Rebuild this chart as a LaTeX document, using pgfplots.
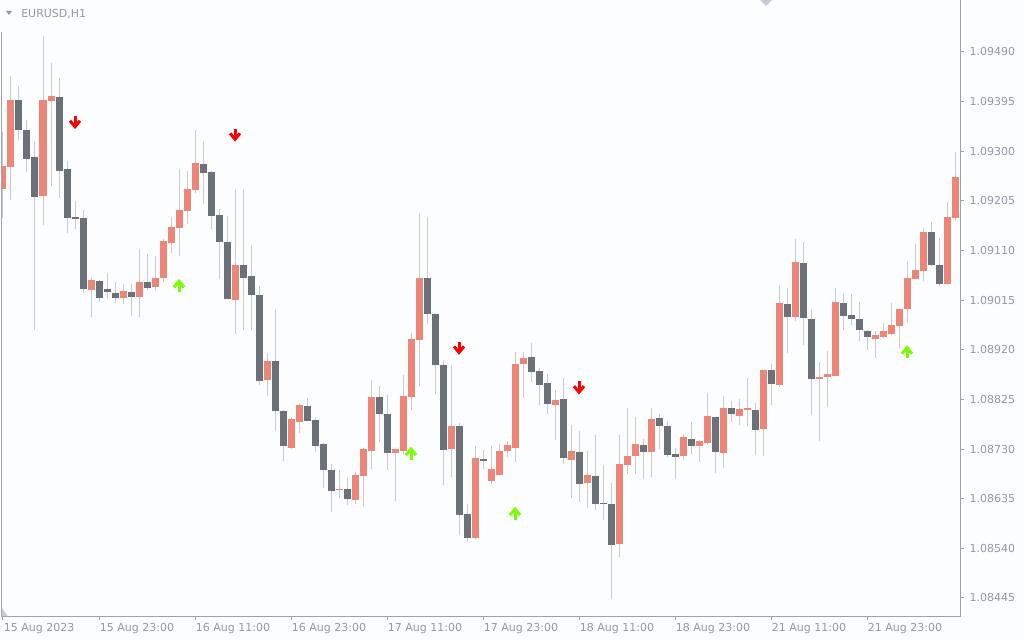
\documentclass[border=0pt]{standalone}
\usepackage{fontspec}
\setmainfont{DejaVu Sans}
\usepackage{pgfplots}
\pgfplotsset{compat=1.18}
\usepackage{pgfplotstable}

\definecolor{bullc}{RGB}{238,134,120}
\definecolor{bearc}{RGB}{107,112,121}
\definecolor{wickc}{RGB}{200,203,212}
\definecolor{bgc}{RGB}{252,253,254}
\definecolor{txtc}{RGB}{150,152,164}
\definecolor{axc}{RGB}{160,162,172}
\definecolor{upc}{RGB}{124,252,0}
\definecolor{dnc}{RGB}{255,0,0}

\pgfdeclareplotmark{dnarr}{%
  \pgfsetlinewidth{2.25pt}\pgfsetmiterjoin\pgfsetbuttcap
  \pgfpathmoveto{\pgfpoint{0pt}{4.9pt}}\pgfpathlineto{\pgfpoint{0pt}{-3.15pt}}\pgfusepathqstroke
  \pgfpathmoveto{\pgfpoint{-3.75pt}{1.35pt}}\pgfpathlineto{\pgfpoint{0pt}{-3.15pt}}\pgfpathlineto{\pgfpoint{3.75pt}{1.35pt}}\pgfusepathqstroke}
\pgfdeclareplotmark{uparr}{%
  \pgfsetlinewidth{2.25pt}\pgfsetmiterjoin\pgfsetbuttcap
  \pgfpathmoveto{\pgfpoint{0pt}{-4.9pt}}\pgfpathlineto{\pgfpoint{0pt}{3.15pt}}\pgfusepathqstroke
  \pgfpathmoveto{\pgfpoint{-3.75pt}{-1.35pt}}\pgfpathlineto{\pgfpoint{0pt}{3.15pt}}\pgfpathlineto{\pgfpoint{3.75pt}{-1.35pt}}\pgfusepathqstroke}
\pgfdeclareplotmark{nomark}{}

% bullish candles: k open high low close
\pgfplotstableread{
k o h l c
0 1.09228 1.09337 1.09173 1.09272
1 1.09270 1.09444 1.09207 1.09398
5 1.09215 1.09521 1.09159 1.09398
6 1.09397 1.09469 1.09234 1.09406
11 1.09035 1.09059 1.08983 1.09054
15 1.09020 1.09046 1.09008 1.09033
17 1.09022 1.09113 1.08982 1.09050
19 1.09041 1.09100 1.09033 1.09057
20 1.09058 1.09132 1.09050 1.09128
21 1.09124 1.09174 1.09106 1.09155
22 1.09154 1.09266 1.09100 1.09188
23 1.09186 1.09263 1.09161 1.09228
24 1.09226 1.09341 1.09220 1.09278
29 1.09016 1.09228 1.08951 1.09082
33 1.08863 1.08914 1.08832 1.08899
36 1.08732 1.08792 1.08730 1.08788
37 1.08782 1.08816 1.08760 1.08814
42 1.08652 1.08690 1.08636 1.08654
44 1.08633 1.08686 1.08624 1.08680
45 1.08679 1.08732 1.08620 1.08730
46 1.08727 1.08862 1.08691 1.08830
49 1.08723 1.08730 1.08631 1.08730
50 1.08727 1.08872 1.08721 1.08832
51 1.08830 1.08952 1.08805 1.08941
52 1.08939 1.09181 1.08851 1.09057
56 1.08731 1.08891 1.08677 1.08774
59 1.08560 1.08735 1.08558 1.08713
61 1.08668 1.08736 1.08664 1.08692
62 1.08681 1.08740 1.08680 1.08726
63 1.08727 1.08746 1.08715 1.08738
64 1.08733 1.08916 1.08706 1.08893
65 1.08892 1.08916 1.08828 1.08904
69 1.08815 1.08843 1.08748 1.08824
71 1.08710 1.08776 1.08637 1.08726
73 1.08666 1.08726 1.08618 1.08680
77 1.08549 1.08757 1.08524 1.08701
78 1.08700 1.08809 1.08683 1.08717
79 1.08717 1.08791 1.08683 1.08740
81 1.08725 1.08809 1.08677 1.08787
85 1.08717 1.08759 1.08710 1.08753
87 1.08736 1.08747 1.08706 1.08745
88 1.08742 1.08837 1.08738 1.08793
90 1.08723 1.08832 1.08694 1.08809
92 1.08794 1.08826 1.08777 1.08807
93 1.08805 1.08866 1.08775 1.08809
95 1.08768 1.08881 1.08717 1.08881
97 1.08853 1.09044 1.08849 1.09010
99 1.08983 1.09132 1.08976 1.09088
102 1.08865 1.08897 1.08746 1.08867
103 1.08867 1.08918 1.08811 1.08874
104 1.08870 1.09039 1.08869 1.09012
109 1.08941 1.08956 1.08905 1.08948
110 1.08945 1.08971 1.08943 1.08956
111 1.08951 1.09010 1.08949 1.08967
112 1.08966 1.08998 1.08924 1.08998
113 1.08999 1.09090 1.08972 1.09057
114 1.09056 1.09123 1.09055 1.09073
115 1.09070 1.09153 1.09052 1.09146
118 1.09045 1.09203 1.09044 1.09174
119 1.09173 1.09299 1.09167 1.09251
}\bull

% bearish candles: k open high low close
\pgfplotstableread{
k o h l c
2 1.09398 1.09425 1.09322 1.09341
3 1.09341 1.09359 1.09261 1.09285
4 1.09289 1.09320 1.08958 1.09213
7 1.09404 1.09440 1.09211 1.09263
8 1.09266 1.09281 1.09144 1.09173
9 1.09174 1.09205 1.09152 1.09171
10 1.09172 1.09188 1.09029 1.09037
12 1.09052 1.09053 1.09012 1.09020
13 1.09036 1.09067 1.09017 1.09031
14 1.09029 1.09050 1.09010 1.09020
16 1.09031 1.09046 1.08985 1.09022
18 1.09050 1.09103 1.09035 1.09039
25 1.09276 1.09320 1.09200 1.09259
26 1.09260 1.09263 1.09152 1.09177
27 1.09178 1.09190 1.09056 1.09127
28 1.09126 1.09176 1.09017 1.09018
30 1.09082 1.09228 1.08957 1.09058
31 1.09061 1.09121 1.08958 1.09024
32 1.09025 1.09042 1.08853 1.08861
34 1.08899 1.08998 1.08765 1.08802
35 1.08803 1.08805 1.08708 1.08735
38 1.08812 1.08828 1.08783 1.08784
39 1.08786 1.08792 1.08725 1.08736
40 1.08740 1.08742 1.08655 1.08689
41 1.08690 1.08701 1.08609 1.08650
43 1.08654 1.08677 1.08622 1.08635
47 1.08830 1.08851 1.08744 1.08798
48 1.08797 1.08834 1.08689 1.08723
53 1.09057 1.09174 1.08970 1.08989
54 1.08989 1.08991 1.08836 1.08890
55 1.08891 1.08900 1.08662 1.08729
57 1.08774 1.08780 1.08566 1.08603
58 1.08606 1.08625 1.08552 1.08560
60 1.08711 1.08728 1.08692 1.08708
66 1.08906 1.08933 1.08859 1.08878
67 1.08879 1.08885 1.08815 1.08853
68 1.08856 1.08874 1.08798 1.08817
70 1.08826 1.08866 1.08702 1.08712
72 1.08724 1.08765 1.08629 1.08664
74 1.08678 1.08757 1.08614 1.08624
75 1.08626 1.08700 1.08595 1.08624
76 1.08625 1.08665 1.08444 1.08547
80 1.08738 1.08749 1.08673 1.08725
82 1.08790 1.08797 1.08731 1.08775
83 1.08774 1.08784 1.08715 1.08719
84 1.08720 1.08732 1.08673 1.08715
86 1.08749 1.08782 1.08721 1.08736
89 1.08791 1.08792 1.08685 1.08725
91 1.08809 1.08822 1.08782 1.08798
94 1.08805 1.08818 1.08719 1.08767
96 1.08881 1.08893 1.08815 1.08855
98 1.09008 1.09038 1.08913 1.08983
100 1.09086 1.09126 1.08930 1.08980
101 1.08979 1.08998 1.08795 1.08865
105 1.09010 1.09029 1.08958 1.08985
106 1.08987 1.09026 1.08968 1.08978
107 1.08979 1.09012 1.08937 1.08957
108 1.08956 1.08958 1.08920 1.08945
116 1.09146 1.09165 1.09081 1.09083
117 1.09082 1.09134 1.09043 1.09045
}\bear

\begin{document}
\begin{tikzpicture}
\fill[bgc] (-1.5pt,-18pt) rectangle (766.5pt,462pt);
\begin{axis}[
  name=ax,
  at={(0pt,0pt)}, anchor=south west,
  scale only axis, width=718.5pt, height=462pt,
  xmin=-0.125, xmax=119.625, ymin=1.084105, ymax=1.095895,
  axis line style={draw=none},
  tick align=outside, major tick length=3pt,
  tick style={draw=axc, line width=0.75pt},
  xtick pos=bottom, ytick pos=right, yticklabel pos=right,
  xtick={0,12,24,36,48,60,72,84,96,108},
  xticklabels={15 Aug 2023,15 Aug 23:00,16 Aug 11:00,16 Aug 23:00,17 Aug 11:00,17 Aug 23:00,18 Aug 11:00,18 Aug 23:00,21 Aug 11:00,21 Aug 23:00},
  ytick={1.08445,1.08540,1.08635,1.08730,1.08825,1.08920,1.09015,1.09110,1.09205,1.09300,1.09395,1.09490},
  yticklabels={1.08445,1.08540,1.08635,1.08730,1.08825,1.08920,1.09015,1.09110,1.09205,1.09300,1.09395,1.09490},
  tick label style={font=\fontsize{8.25pt}{10pt}\selectfont, text=txtc},
  xticklabel style={anchor=north west, inner sep=0pt, xshift=0.5pt, yshift=-2pt},
  yticklabel style={anchor=west, inner sep=0pt, xshift=4pt},
  candle/.style={only marks, mark=nomark, forget plot,
    error bars/.cd, y dir=plus, y explicit, error mark=none},
]
% wicks
\addplot[wickc, candle, error bar style={line width=0.75pt, draw=wickc}]
  table[x=k, y=l, y error expr=\thisrow{h}-\thisrow{l}] {\bull};
\addplot[wickc, candle, error bar style={line width=0.75pt, draw=wickc}]
  table[x=k, y=l, y error expr=\thisrow{h}-\thisrow{l}] {\bear};
% bodies
\addplot[bullc, candle, error bar style={line width=5.25pt, draw=bullc}]
  table[x=k, y=o, y error expr=\thisrow{c}-\thisrow{o}] {\bull};
\addplot[bearc, candle, error bar style={line width=5.25pt, draw=bearc}]
  table[x=k, y=c, y error expr=\thisrow{o}-\thisrow{c}] {\bear};
% signal arrows
\addplot[only marks, mark=dnarr, mark options={draw=dnc}] coordinates {(9,1.09355) (29,1.09331) (57,1.08923) (72,1.08847)};
\addplot[only marks, mark=uparr, mark options={draw=upc}] coordinates {(22,1.09043) (51,1.08722) (64,1.08607) (113,1.08916)};
\end{axis}
% frame
\draw[axc, line width=0.75pt] (0pt,438pt) -- (0pt,0pt) -- (718.5pt,0pt) -- (718.5pt,462pt);
\fill[wickc] (0pt,6pt) -- (0pt,0pt) -- (4.2pt,0pt) -- cycle;
\fill[wickc] (568.5pt,462pt) -- (577.5pt,462pt) -- (573pt,457.5pt) -- cycle;
% title
\fill[txtc] (3pt,453.75pt) -- (7.5pt,453.75pt) -- (5.25pt,450.75pt) -- cycle;
\node[anchor=base west, inner sep=0pt, text=txtc, font=\fontsize{8.25pt}{10pt}\selectfont] at (14.25pt,448.9pt) {EURUSD,H1};
\pgfresetboundingbox
\path[use as bounding box] (-1.5pt,-18pt) rectangle (766.5pt,462pt);
\end{tikzpicture}
\end{document}
